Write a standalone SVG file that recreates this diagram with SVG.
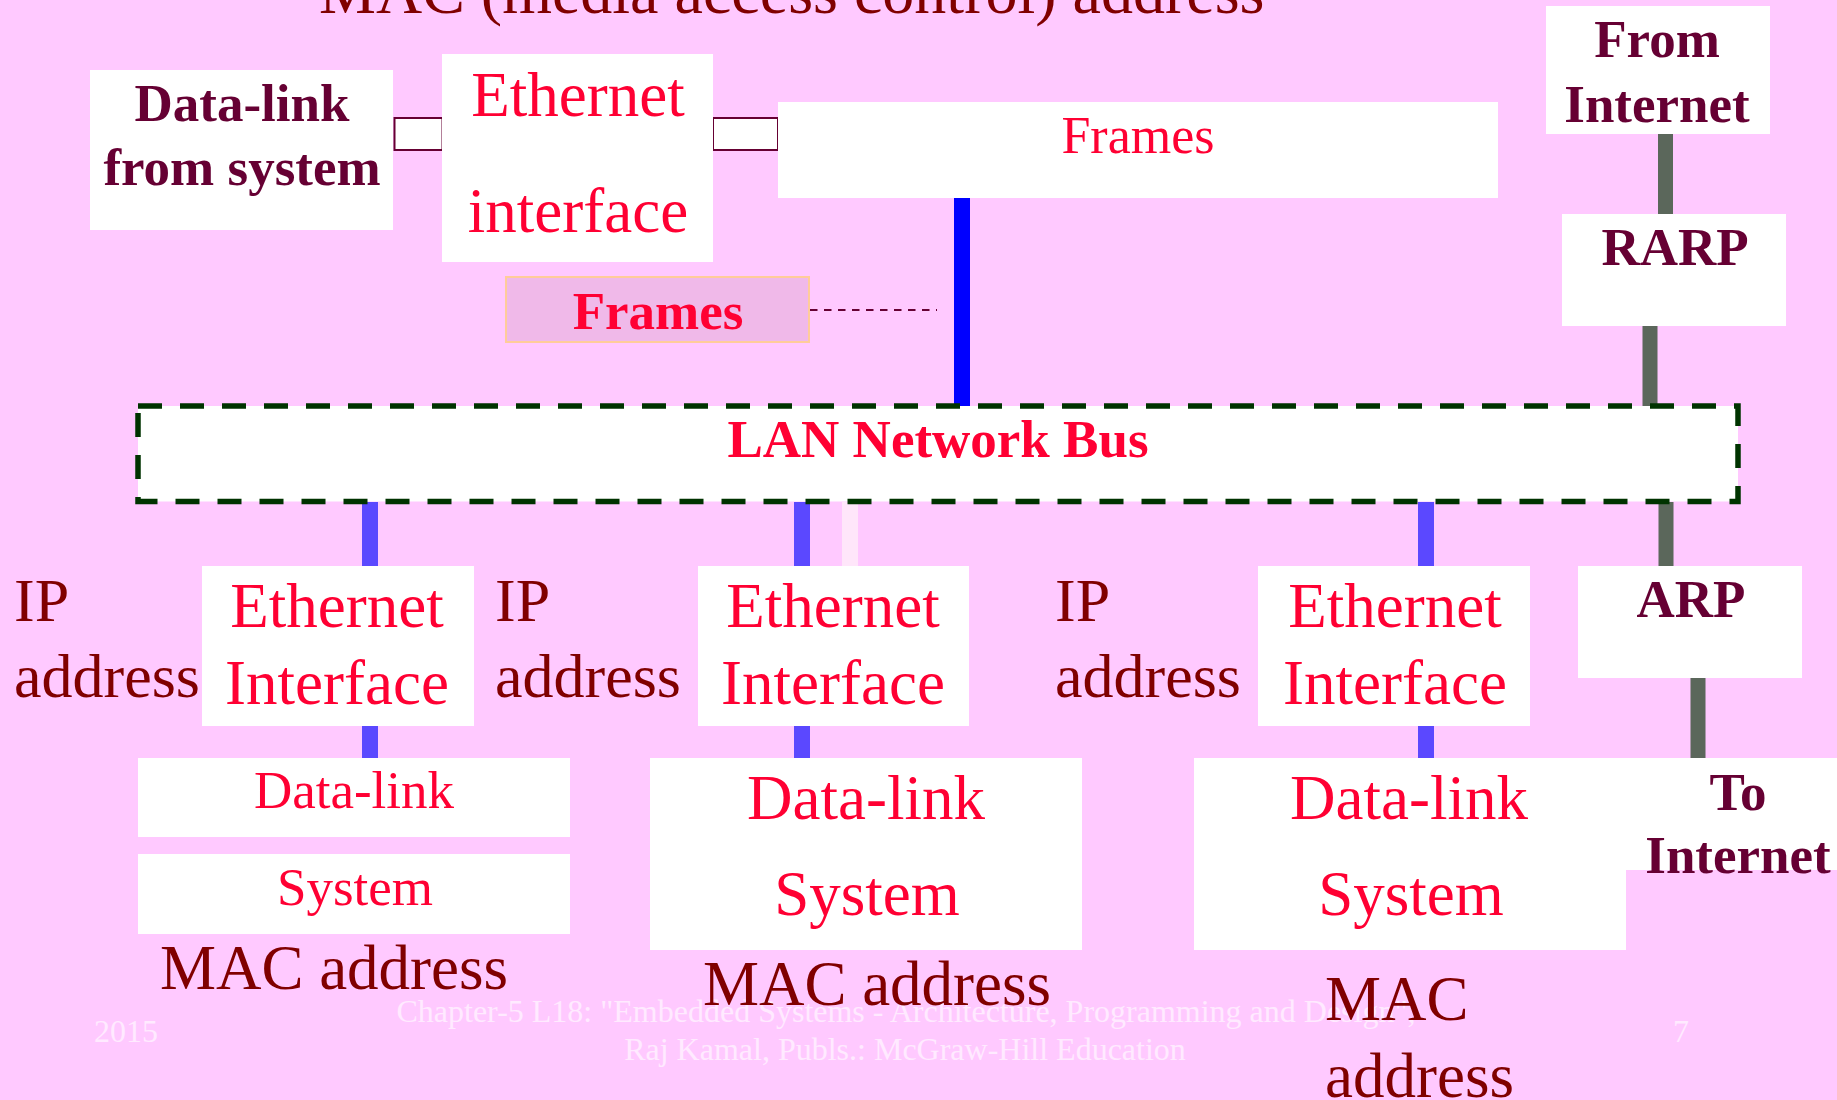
<svg xmlns="http://www.w3.org/2000/svg" width="1837" height="1100" viewBox="0 0 1837 1100">
<style>
text{font-family:"Liberation Serif","Times New Roman",serif}
.box{fill:#ffffff}
.red{fill:#ff0033}
.dr{fill:#800000}
.bm{fill:#660033;font-weight:bold}
.c{text-anchor:middle}
.foot{fill:#ffeaff;font-size:32px}
.blue{stroke:#5b48ff;stroke-width:16}
.gray{stroke:#5b675b;stroke-width:15}
</style>
<rect x="0" y="0" width="1837" height="1100" fill="#ffc9ff"/>

<g id="footer">
<text class="foot" x="94" y="1042">2015</text>
<text class="foot c" x="906" y="1022">Chapter-5 L18: "Embedded Systems - Architecture, Programming and Design",</text>
<text class="foot c" x="905" y="1060">Raj Kamal, Publs.: McGraw-Hill Education</text>
<text class="foot" x="1673" y="1042">7</text>
</g>

<g id="title">
<text class="dr" x="319" y="13" font-size="64">MAC (media access control) address</text>
</g>

<g id="datalink-from-system">
<rect class="box" x="90" y="70" width="303" height="160"/>
<text class="bm c" x="242" y="121" font-size="53">Data-link</text>
<text class="bm c" x="242" y="185" font-size="53">from system</text>
</g>

<g id="connectors">
<rect x="394.5" y="118" width="48" height="32" fill="#ffffff" stroke="#660033" stroke-width="2"/>
<rect x="713" y="118" width="65" height="32" fill="#ffffff" stroke="#660033" stroke-width="2"/>
<line x1="962" y1="198" x2="962" y2="406" stroke="#0000ff" stroke-width="16"/>
<line x1="810" y1="310" x2="937" y2="310" stroke="#660033" stroke-width="2" stroke-dasharray="7.5 6.5"/>
<line class="gray" x1="1665.5" y1="133" x2="1665.5" y2="215"/>
<line class="gray" x1="1650" y1="325" x2="1650" y2="406"/>
<line class="blue" x1="370" y1="502" x2="370" y2="567"/>
<line class="blue" x1="802" y1="502" x2="802" y2="567"/>
<line x1="850" y1="502" x2="850" y2="567" stroke="#ffe6fa" stroke-width="16"/>
<line class="blue" x1="1426" y1="502" x2="1426" y2="567"/>
<line class="gray" x1="1666" y1="502" x2="1666" y2="567"/>
<line class="blue" x1="370" y1="725" x2="370" y2="759"/>
<line class="blue" x1="802" y1="725" x2="802" y2="759"/>
<line class="blue" x1="1426" y1="725" x2="1426" y2="759"/>
<line class="gray" x1="1698" y1="677" x2="1698" y2="759"/>
</g>

<g id="ethernet-interface-top">
<rect class="box" x="442" y="54" width="271" height="208"/>
<text class="red c" x="578" y="116" font-size="63">Ethernet</text>
<text class="red c" x="578" y="232" font-size="63">interface</text>
</g>

<g id="frames-top">
<rect class="box" x="778" y="102" width="720" height="96"/>
<text class="red c" x="1138" y="153" font-size="52">Frames</text>
</g>

<g id="frames-label">
<rect x="506" y="277" width="303" height="65" fill="#f0b9e9" stroke="#ffcc99" stroke-width="2"/>
<text class="c" x="658" y="329" font-size="53" font-weight="bold" fill="#ff0033">Frames</text>
</g>

<g id="from-internet">
<rect class="box" x="1546" y="6" width="224" height="128"/>
<text class="bm c" x="1657" y="57" font-size="53">From</text>
<text class="bm c" x="1657" y="122" font-size="53">Internet</text>
</g>

<g id="rarp">
<rect class="box" x="1562" y="214" width="224" height="112"/>
<text class="bm c" x="1675" y="265" font-size="53">RARP</text>
</g>

<g id="lan-bus">
<rect x="138" y="406" width="1600" height="95.5" fill="#ffffff" stroke="#003300" stroke-width="5.5" stroke-dasharray="24 18"/>
<text class="c" x="938" y="457" font-size="53" font-weight="bold" fill="#ff0033">LAN Network Bus</text>
</g>

<g id="ip-address-1">
<text class="dr" x="14" y="621" font-size="62">IP</text>
<text class="dr" x="14" y="697" font-size="62">address</text>
</g>
<g id="ip-address-2">
<text class="dr" x="495" y="621" font-size="62">IP</text>
<text class="dr" x="495" y="697" font-size="62">address</text>
</g>
<g id="ip-address-3">
<text class="dr" x="1055" y="621" font-size="62">IP</text>
<text class="dr" x="1055" y="697" font-size="62">address</text>
</g>

<g id="ethernet-interface-1">
<rect class="box" x="202" y="566" width="272" height="160"/>
<text class="red c" x="337" y="627" font-size="63">Ethernet</text>
<text class="red c" x="337" y="704" font-size="63">Interface</text>
</g>
<g id="ethernet-interface-2">
<rect class="box" x="698" y="566" width="271" height="160"/>
<text class="red c" x="833" y="627" font-size="63">Ethernet</text>
<text class="red c" x="833" y="704" font-size="63">Interface</text>
</g>
<g id="ethernet-interface-3">
<rect class="box" x="1258" y="566" width="272" height="160"/>
<text class="red c" x="1395" y="627" font-size="63">Ethernet</text>
<text class="red c" x="1395" y="704" font-size="63">Interface</text>
</g>

<g id="arp">
<rect class="box" x="1578" y="566" width="224" height="112"/>
<text class="bm c" x="1691" y="617" font-size="53">ARP</text>
</g>

<g id="to-internet">
<rect class="box" x="1600" y="758" width="240" height="112"/>
<text class="bm c" x="1738" y="810" font-size="53">To</text>
<text class="bm c" x="1738" y="873" font-size="53">Internet</text>
</g>

<g id="datalink-1">
<rect class="box" x="138" y="758" width="432" height="79"/>
<text class="red c" x="354" y="808" font-size="53">Data-link</text>
</g>
<g id="system-1">
<rect class="box" x="138" y="854" width="432" height="80"/>
<text class="red c" x="355" y="905" font-size="53">System</text>
</g>

<g id="datalink-system-2">
<rect class="box" x="650" y="758" width="432" height="192"/>
<text class="red c" x="866" y="819" font-size="63">Data-link</text>
<text class="red c" x="867" y="915" font-size="63">System</text>
</g>

<g id="datalink-system-3">
<rect class="box" x="1194" y="758" width="432" height="192"/>
<text class="red c" x="1409" y="819" font-size="63">Data-link</text>
<text class="red c" x="1411" y="915" font-size="63">System</text>
</g>

<g id="mac-address-1">
<text class="dr c" x="334" y="989" font-size="63">MAC address</text>
</g>
<g id="mac-address-2">
<text class="dr c" x="877" y="1005" font-size="63">MAC address</text>
</g>
<g id="mac-address-3">
<text class="dr" x="1325" y="1020" font-size="63">MAC</text>
<text class="dr" x="1325" y="1097" font-size="63">address</text>
</g>
</svg>
